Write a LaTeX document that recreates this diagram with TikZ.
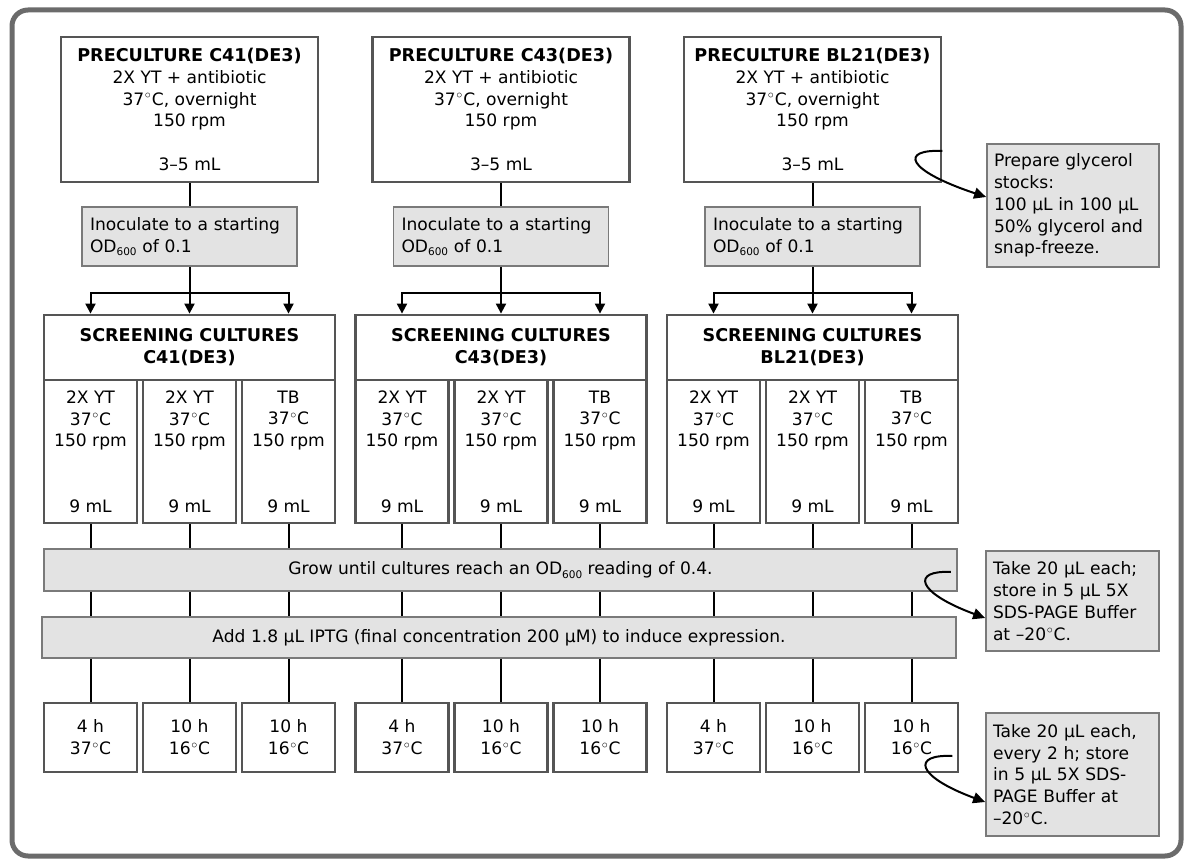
\documentclass[tikz,border=0pt]{standalone}
\usepackage{fontspec}
\setmainfont{DejaVu Sans}
\usetikzlibrary{arrows.meta,calc}
\definecolor{framec}{HTML}{6B6B6B}
\definecolor{bline}{HTML}{555555}
\definecolor{gfill}{HTML}{E3E3E3}
\definecolor{gline}{HTML}{7A7A7A}
\newcommand{\ODs}{OD\raisebox{-3.5pt}{\fontsize{10.5}{10.5}\selectfont 600}}
\newcommand{\dg}{\kern0.6pt$^{\circ}$\kern0.4pt}
\newcommand{\bld}[1]{{\fontsize{17.6}{21.8}\selectfont\bfseries #1}}
\newcommand{\cbox}[7]{\node[#2,minimum width={(#5)-(#3)},minimum height={(#6)-(#4)}] (#1) at ({((#3)+(#5))/2},{((#4)+(#6))/2}) {#7};}
\begin{document}
\begin{tikzpicture}[x=1pt,y=-1pt,
  wbox/.style={draw=bline,line width=2.8pt,fill=white,inner sep=0pt,align=center,font=\fontsize{17.1}{21.8}\selectfont},
  gbox/.style={draw=gline,line width=1.8pt,fill=gfill,inner ysep=0pt,font=\fontsize{17.1}{21.8}\selectfont},
  conn/.style={draw=black,line width=2pt},
  arr/.style={conn,-{Triangle[width=10pt,length=10pt]}},
  curv/.style={draw=black,line width=2pt,-{Triangle[width=11pt,length=12pt]}},
]
\useasboundingbox (0,0) rectangle (1186,861);
\draw[framec,line width=5pt,rounded corners=16pt] (12,10) rectangle (1181,856);

% grow and add bars
\cbox{grow}{gbox,align=center,inner xsep=0pt}{44}{549}{957}{591}{Grow until cultures reach an \ODs{} reading of 0.4.}
\cbox{add}{gbox,align=center,inner xsep=0pt}{42}{617}{956}{658}{Add 1.8 µL IPTG (final concentration 200 µM) to induce expression.}

\foreach \g/\gx/\nm in {1/0/C41(DE3),2/311.5/C43(DE3),3/623/BL21(DE3)}{
  \cbox{pre\g}{wbox}{\gx+61}{37}{\gx+318}{182}{\bld{PRECULTURE \nm}\\2X YT + antibiotic\\37\dg C, overnight\\150 rpm\\[21.8pt]3–5 mL}
  \cbox{ino\g}{gbox,align=left,inner xsep=8pt,text width=199pt}{\gx+82}{207}{\gx+297}{266}{Inoculate to a starting\\\ODs{} of 0.1}
  \cbox{head\g}{wbox}{\gx+44}{315}{\gx+335}{380}{\bld{SCREENING CULTURES}\\\bld{\nm}}
  \foreach \k/\sx/\med/\tm/\tc in {1/44/2X YT/4 h/37,2/143/2X YT/10 h/16,3/242/TB/10 h/16}{
    \cbox{sub\g\k}{wbox}{\gx+\sx}{380}{\gx+\sx+93}{523}{\med\\37\dg C\\150 rpm\\[43.6pt]9 mL}
    \cbox{bot\g\k}{wbox}{\gx+\sx}{703}{\gx+\sx+93}{772}{\tm\\\tc\dg C}
    \draw[conn] (sub\g\k.south) -- (sub\g\k.south |- grow.north);
    \draw[conn] (sub\g\k.south |- grow.south) -- (sub\g\k.south |- add.north);
    \draw[conn] (sub\g\k.south |- add.south) -- (bot\g\k.north);
  }
  \draw[conn] (pre\g.south) -- (ino\g.north);
  \coordinate (j\g) at ($(ino\g.south)+(0,26)$);
  \draw[conn] (ino\g.south) -- (j\g);
  \draw[arr] (j\g) -| (sub\g1.north |- head\g.north);
  \draw[arr] (j\g) -| (sub\g3.north |- head\g.north);
  \draw[arr] (j\g) -- (head\g.north);
}

% notes
\cbox{gly}{gbox,align=left,inner xsep=7pt,text width=158pt}{987}{144}{1159}{267}{Prepare glycerol\\stocks:\\100 µL in 100 µL\\50\% glycerol and\\snap-freeze.}
\cbox{take1}{gbox,align=left,inner xsep=7pt,text width=159pt}{986}{551}{1159}{651}{Take 20 µL each;\\store in 5 µL 5X\\SDS-PAGE Buffer\\at –20\dg C.}
\cbox{take2}{gbox,align=left,inner xsep=7pt,text width=159pt}{986}{713}{1159}{836}{Take 20 µL each,\\every 2 h; store\\in 5 µL 5X SDS-\\PAGE Buffer at\\–20\dg C.}

\draw[curv] ([yshift=-41.5pt]pre3.east) .. controls (900,149) and (905,170) .. ([yshift=8.5pt]gly.west);
\draw[curv] ([xshift=-7pt,yshift=-2pt]grow.east) .. controls (912,570) and (915,592) .. ([yshift=-17pt]take1.west);
\draw[curv] ([xshift=-7pt,yshift=-18.5pt]bot33.east) .. controls (912,754) and (915,776) .. ([yshift=-27.5pt]take2.west);
\end{tikzpicture}
\end{document}
